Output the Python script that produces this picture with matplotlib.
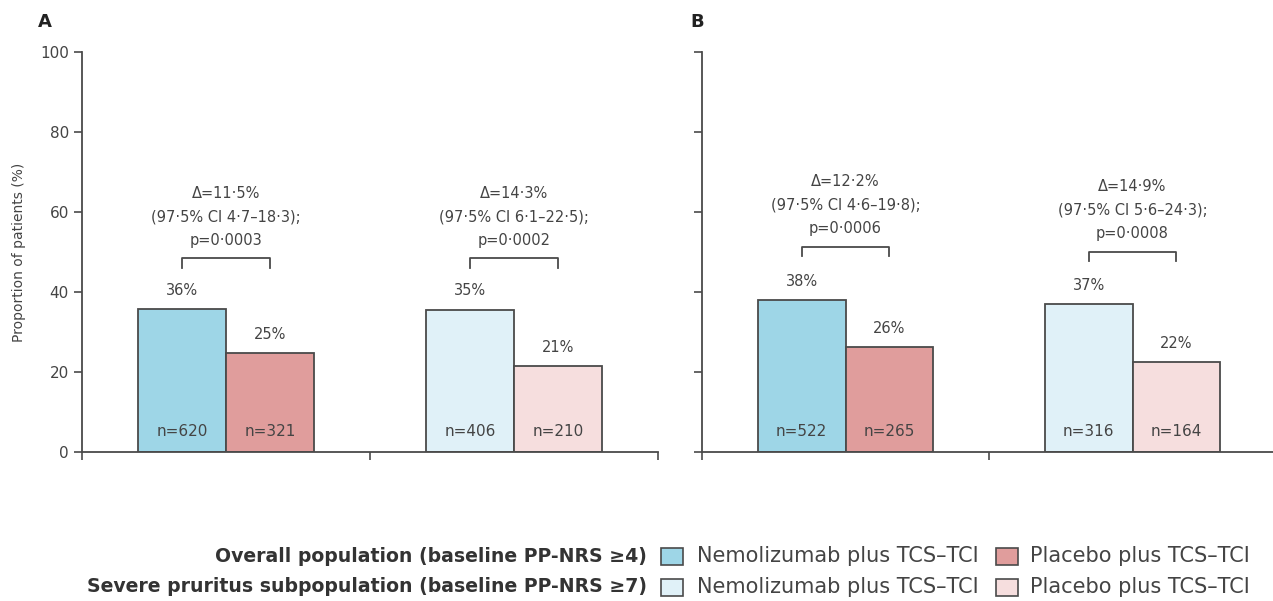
import matplotlib
matplotlib.use("Agg")
import matplotlib.pyplot as plt
from matplotlib.patches import Rectangle
from matplotlib import font_manager

# ---------------- data ----------------
groups = ["Overall population", "Severe pruritus subpopulation"]
series = ["Nemolizumab plus TCS–TCI", "Placebo plus TCS–TCI"]

a_values = [[35.8, 24.8], [35.6, 21.5]]
a_labels = [["36%", "25%"], ["35%", "21%"]]
a_n = [["n=620", "n=321"], ["n=406", "n=210"]]
a_stats = ["Δ=11·5%\n(97·5% CI 4·7–18·3);\np=0·0003",
           "Δ=14·3%\n(97·5% CI 6·1–22·5);\np=0·0002"]

b_values = [[38.0, 26.3], [37.0, 22.4]]
b_labels = [["38%", "26%"], ["37%", "22%"]]
b_n = [["n=522", "n=265"], ["n=316", "n=164"]]
b_stats = ["Δ=12·2%\n(97·5% CI 4·6–19·8);\np=0·0006",
           "Δ=14·9%\n(97·5% CI 5·6–24·3);\np=0·0008"]

yticks = [0, 20, 40, 60, 80, 100]

colors = [["#9ed6e7", "#e09d9c"], ["#e0f1f8", "#f6dede"]]
legend_rows = ["Overall population (baseline PP-NRS ≥4)",
               "Severe pruritus subpopulation (baseline PP-NRS ≥7)"]

# ---------------- style ----------------
avail = {f.name for f in font_manager.fontManager.ttflist}
fam = ["Liberation Sans Narrow", "DejaVu Sans"] if "Liberation Sans Narrow" in avail else ["DejaVu Sans"]
plt.rcParams["font.family"] = fam
txt = "#444444"
edge = "#4a4a4a"

W, H = 1273, 601
fig = plt.figure(figsize=(W / 100, H / 100), dpi=100)

def fx(px):
    return px / W

def fy(py):
    return 1 - py / H

axA = fig.add_axes([fx(82), fy(452), 576 / W, 400 / H])
axB = fig.add_axes([fx(702), fy(452), 574 / W, 400 / H])

bw = 0.306
centers = [0.5, 1.5]

def draw(ax, values, labels, ns, stats, label_off, bracket_y, show_labels):
    for g, c in enumerate(centers):
        xs = [c - bw / 2, c + bw / 2]
        for s in range(2):
            v = values[g][s]
            ax.bar(xs[s], v, width=bw, color=colors[g][s], edgecolor=edge,
                   linewidth=1.3, zorder=2)
            ax.text(xs[s], v + label_off, labels[g][s], ha="center", va="bottom",
                    fontsize=10.5, color=txt)
            ax.text(xs[s], 5, ns[g][s], ha="center", va="center",
                    fontsize=11, color=txt)
        by = bracket_y[g]
        ax.plot([xs[0], xs[0], xs[1], xs[1]], [by - 2.4, by, by, by - 2.4],
                color=edge, linewidth=1.3, clip_on=False)
        ax.text(c, by + 2.6, stats[g], ha="center", va="bottom", fontsize=10.5,
                color=txt, linespacing=1.72)
    ax.set_xlim(0, 2)
    ax.set_ylim(0, 100)
    ax.set_xticks([0, 1, 2])
    ax.set_xticklabels([])
    ax.set_yticks(yticks)
    if show_labels:
        ax.set_yticklabels([str(t) for t in yticks], fontsize=11, color=txt)
    else:
        ax.set_yticklabels([])
    ax.tick_params(axis="both", direction="out", length=6, width=1.2, color=edge)
    for sp in ["top", "right"]:
        ax.spines[sp].set_visible(False)
    for sp in ["left", "bottom"]:
        ax.spines[sp].set_color(edge)
        ax.spines[sp].set_linewidth(1.3)
    ax.patch.set_alpha(0)

draw(axA, a_values, a_labels, a_n, a_stats, 2.8, [48.4, 48.4], True)
draw(axB, b_values, b_labels, b_n, b_stats, 2.8, [51.3, 50.1], False)

axA.set_ylabel("Proportion of patients (%)", fontsize=10, color=txt, labelpad=10)

fig.text(fx(45), fy(22), "A", fontsize=13, fontweight="bold", color="#222222",
         ha="center", va="center")
fig.text(fx(697), fy(22), "B", fontsize=13, fontweight="bold", color="#222222",
         ha="center", va="center")

# ---------------- legend ----------------
row_y = [556, 587]
for r in range(2):
    yc = row_y[r]
    fig.text(fx(647), fy(yc), legend_rows[r], ha="right", va="center",
             fontsize=13.6, fontweight="bold", color="#333333")
    for s, (px0, tx) in enumerate([(661, 697), (996, 1030)]):
        fig.add_artist(Rectangle((fx(px0), fy(yc + 8.5)), 22 / W, 17 / H,
                                 transform=fig.transFigure,
                                 facecolor=colors[r][s], edgecolor=edge,
                                 linewidth=1.2))
        fig.text(fx(tx), fy(yc), series[s], ha="left", va="center",
                 fontsize=15, color="#444444")

fig.savefig("out.png", dpi=100)
